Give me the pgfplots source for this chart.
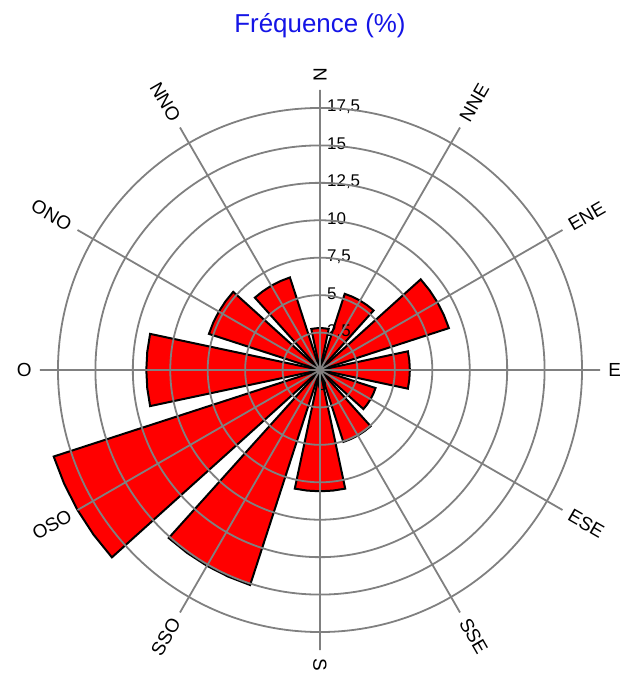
\documentclass[border=0pt]{standalone}
\usepackage{pgfplots}
\pgfplotsset{compat=1.18}
\usepgfplotslibrary{polar}
\usepackage{fontspec}
\setmainfont{Liberation Sans}
\definecolor{gridgray}{RGB}{128,128,128}
\definecolor{titleblue}{RGB}{20,20,230}
\tikzset{
  bar/.style={fill=red, draw=black, line width=2bp, line join=miter, mark=none},
  dirlab/.style={inner sep=0pt, font=\fontsize{19}{20}\selectfont},
  radlab/.style={inner sep=0pt, anchor=base west, xshift=7bp, yshift=-4bp, font=\fontsize{17}{18}\selectfont},
}
\begin{document}
\begin{tikzpicture}
\begin{polaraxis}[
  scale only axis, width=560bp, height=560bp,
  ymin=0, ymax=18.7, xmin=0, xmax=360,
  xtick={0,30,...,330}, ytick={2.5,5,...,17.5},
  xticklabel=\empty, yticklabel=\empty,
  major tick length=0pt,
  grid=major, major grid style={draw=gridgray, line width=1.8bp},
  axis line style={draw=none},
  axis on top, clip=false,
]
% N 2.8
\addplot[bar] coordinates {(0,0) (78,2.8) (84,2.8) (90,2.8) (96,2.8) (102,2.8)} -- cycle;
% NNE 5.35
\addplot[bar] coordinates {(0,0) (48,5.35) (54,5.35) (60,5.35) (66,5.35) (72,5.35)} -- cycle;
% ENE 9.05
\addplot[bar] coordinates {(0,0) (18,9.05) (24,9.05) (30,9.05) (36,9.05) (42,9.05)} -- cycle;
% E 6.0
\addplot[bar] coordinates {(0,0) (-12,6.0) (-6,6.0) (0,6.0) (6,6.0) (12,6.0)} -- cycle;
% ESE 3.9
\addplot[bar] coordinates {(0,0) (318,3.9) (324,3.9) (330,3.9) (336,3.9) (342,3.9)} -- cycle;
% SSE 5.05
\addplot[bar] coordinates {(0,0) (288,5.05) (294,5.05) (300,5.05) (306,5.05) (312,5.05)} -- cycle;
% S 8.1
\addplot[bar] coordinates {(0,0) (258,8.1) (264,8.1) (270,8.1) (276,8.1) (282,8.1)} -- cycle;
% SSO 15.1
\addplot[bar] coordinates {(0,0) (228,15.1) (234,15.1) (240,15.1) (246,15.1) (252,15.1)} -- cycle;
% OSO 18.7
\addplot[bar] coordinates {(0,0) (198,18.7) (204,18.7) (210,18.7) (216,18.7) (222,18.7)} -- cycle;
% O 11.6
\addplot[bar] coordinates {(0,0) (168,11.6) (174,11.6) (180,11.6) (186,11.6) (192,11.6)} -- cycle;
% ONO 7.8
\addplot[bar] coordinates {(0,0) (138,7.8) (144,7.8) (150,7.8) (156,7.8) (162,7.8)} -- cycle;
% NNO 6.5
\addplot[bar] coordinates {(0,0) (108,6.5) (114,6.5) (120,6.5) (126,6.5) (132,6.5)} -- cycle;

\coordinate (cen) at (axis cs:0,0);
% radial labels
\node[radlab] at (axis cs:90,2.5) {2,5};
\node[radlab] at (axis cs:90,5) {5};
\node[radlab] at (axis cs:90,7.5) {7,5};
\node[radlab] at (axis cs:90,10) {10};
\node[radlab] at (axis cs:90,12.5) {12,5};
\node[radlab] at (axis cs:90,15) {15};
\node[radlab] at (axis cs:90,17.5) {17,5};
\node[inner sep=0pt, font=\fontsize{17}{18}\selectfont] at (axis cs:0,0) [xshift=2bp, yshift=-15bp] {0};
% direction labels
\node[dirlab, anchor=west, rotate=90] at (axis cs:90,19.25) {N};
\node[dirlab, anchor=west, rotate=60] at (axis cs:60,19.25) {NNE};
\node[dirlab, anchor=west, rotate=30] at (axis cs:30,19.25) {ENE};
\node[dirlab, anchor=west, rotate=0] at (axis cs:0,19.25) {E};
\node[dirlab, anchor=west, rotate=-30] at (axis cs:330,19.25) {ESE};
\node[dirlab, anchor=west, rotate=-60] at (axis cs:300,19.25) {SSE};
\node[dirlab, anchor=west, rotate=-90] at (axis cs:270,19.25) {S};
\node[dirlab, anchor=east, rotate=60] at (axis cs:240,19.25) {SSO};
\node[dirlab, anchor=east, rotate=30] at (axis cs:210,19.25) {OSO};
\node[dirlab, anchor=east, rotate=0] at (axis cs:180,19.25) {O};
\node[dirlab, anchor=east, rotate=-30] at (axis cs:150,19.25) {ONO};
\node[dirlab, anchor=east, rotate=-60] at (axis cs:120,19.25) {NNO};
\end{polaraxis}
\node[anchor=base, inner sep=0pt, text=titleblue, font=\fontsize{26}{28}\selectfont] at ([yshift=337bp]cen) {Fréquence (\%)};
\pgfresetboundingbox
\path ([xshift=-320bp, yshift=-304bp]cen) rectangle ([xshift=300bp, yshift=370bp]cen);
\end{tikzpicture}
\end{document}
